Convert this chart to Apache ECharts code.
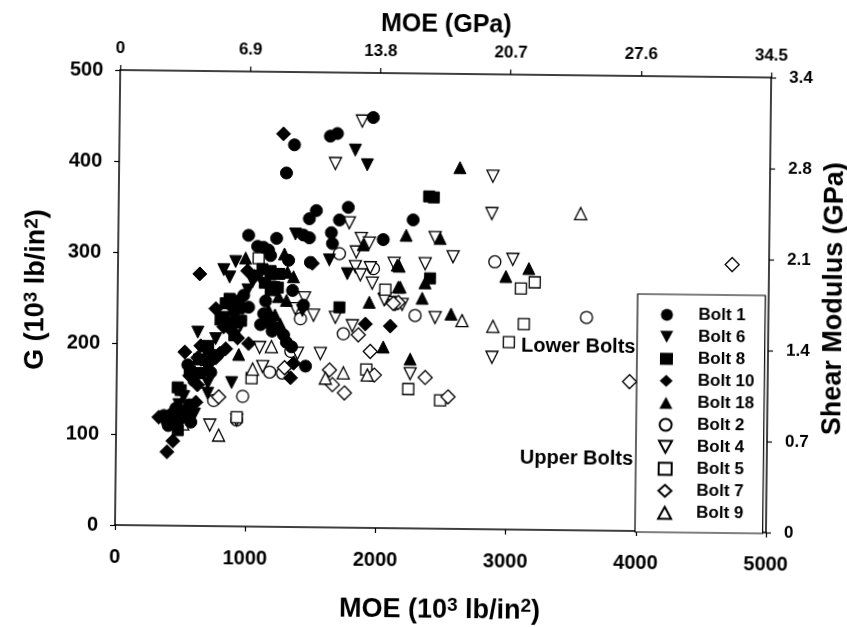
<!DOCTYPE html>
<html><head><meta charset="utf-8">
<style>html,body{margin:0;padding:0;background:#fff;overflow:hidden}
#c{width:847px;height:627px;transform-origin:115px 525px;transform:rotate(0.66deg)}</style>
<script src="https://cdn.jsdelivr.net/npm/echarts@6/dist/echarts.min.js"></script>
</head><body><div id="c"></div><script>
const bolt1=[[1948,451],[1674,433],[1620,430],[1345,420],[1286,389],[1519,348],[1466,339],[1764,352],[1697,338],[1636,324],[1645,312],[2035,317],[1001,320],[1216,317],[1422,321],[1468,318],[1071,308],[1117,307],[1155,304],[1171,298],[1310,293],[1478,291],[1343,260],[1137,248],[1428,244],[2263,339],[968,254],[930,248],[1007,241],[1123,234],[1138,225],[1177,224],[1231,218],[1278,211],[1340,198],[1449,177],[545,177],[722,169],[592,160],[700,180],[573,114],[550,119],[366,121],[457,129],[400,110],[430,123],[480,116],[520,126],[560,133],[1100,222],[1190,215],[1300,203]];
const bolt6=[[1813,415],[1906,399],[1361,322],[1623,294],[1762,279],[904,291],[813,282],[859,274],[1036,269],[1135,267],[1197,263],[619,213],[883,158],[700,157],[757,206],[700,146],[645,182],[682,191],[358,116],[516,142],[947,221],[1421,238],[1162,229],[420,116],[600,123],[480,133],[1000,260],[1085,275]];
const bolt8=[[2384,365],[2420,364],[2398,275],[1704,242],[470,152],[474,105],[831,245],[1172,281],[1175,260],[630,183],[793,227],[910,224],[493,149],[560,170],[640,168],[700,198],[740,188],[860,250],[820,230],[900,210],[950,226],[1110,283],[1240,278],[1130,268],[1230,263]];
const bolt10=[[1260,432],[629,277],[1493,290],[2096,222],[1905,224],[1335,164],[1357,180],[392,81],[437,93],[521,191],[755,239],[925,207],[1010,201],[818,219],[643,198],[610,136],[327,119],[835,195],[621,185],[885,240],[996,281],[620,155],[560,165],[760,185],[700,178],[790,190],[900,235],[850,225],[960,240],[880,215],[1050,275]];
const bolt18=[[2618,397],[2211,322],[2472,319],[2160,288],[2169,265],[2360,270],[2339,253],[2562,236],[2044,199],[2252,186],[2980,278],[3156,287],[1882,311],[980,295],[1278,300],[1349,275],[1303,280],[2145,289],[2155,265],[1933,248],[1236,253],[1297,249],[935,189],[1172,278],[1160,238],[1210,233],[1250,223]];
const bolt2=[[2894,294],[3603,234],[2286,234],[1737,213],[1174,170],[969,143],[747,138],[1273,169],[1406,229],[1335,193],[1700,301],[1962,285],[925,117],[1947,168]];
const bolt4=[[1864,447],[1661,400],[1773,335],[1866,318],[1928,313],[1829,303],[1823,287],[1938,286],[1862,278],[1954,269],[2121,291],[2055,252],[2117,248],[1435,252],[2872,388],[2867,347],[2433,320],[2573,299],[2359,291],[3032,297],[2048,251],[2186,246],[2440,232],[2880,189],[2253,170],[1674,231],[1805,222],[1506,233],[1367,240],[1386,191],[1562,191],[1095,197],[1120,176],[719,111],[925,117]];
const bolt5=[[1080,295],[2055,262],[1036,163],[1916,174],[3202,272],[3096,265],[3122,226],[3009,206],[2240,153],[2486,141],[925,120]];
const bolt7=[[4717,294],[3939,164],[2369,166],[2546,145],[785,142],[1852,212],[1945,194],[1978,168],[1750,148],[1657,157],[1633,173],[1288,175],[2133,247],[2155,248],[2118,247]];
const bolt9=[[3549,348],[2647,229],[2885,223],[1186,198],[1043,173],[1740,170],[1603,164],[1924,168],[788,100],[512,112],[510,138]];
const topTickLabels=['0','6.9','13.8','20.7','27.6','34.5'];
const rightTickLabels=['0','0.7','1.4','2.1','2.8','3.4'];
const legendOrder=['Bolt 1','Bolt 6','Bolt 8','Bolt 10','Bolt 18','Bolt 2','Bolt 4','Bolt 5','Bolt 7','Bolt 9'];

const F='"Liberation Sans",Arial,sans-serif';
const lbl={color:'#000',fontFamily:F,fontWeight:'bold',fontSize:17};
const rich={n:{fontFamily:F,fontWeight:'bold',fontSize:27,color:'#000'},s:{fontFamily:F,fontWeight:'bold',fontSize:19,color:'#000',padding:[0,0,11,0]}};
const line={show:true,onZero:false,lineStyle:{color:'#000',width:1.5}};
const tick={show:true,length:5,lineStyle:{color:'#000',width:1.2}};
const downTri='path://M0,0 L12,0 L6,11 Z';
function filled(name,data,symbol,size,rot){return {name,type:'scatter',data,symbol,symbolSize:size,symbolRotate:rot||0,z:5,itemStyle:{color:'#000',borderColor:'#000',opacity:1}};}
function open(name,data,symbol,size,rot){return {name,type:'scatter',data,symbol,symbolSize:size,symbolRotate:rot||0,z:3,itemStyle:{color:'#fff',borderColor:'#000',borderWidth:1.3,opacity:1}};}

const chart=echarts.init(document.getElementById('c'),null,{renderer:'canvas'});
chart.setOption({
 animation:false,backgroundColor:'#fff',
 grid:{left:115,top:70,width:651,height:455,containLabel:false,outerBoundsMode:'none'},
 legend:{orient:'vertical',left:635,top:288,itemWidth:13,itemHeight:12,itemGap:5,padding:[12,10,11,22],
  backgroundColor:'#fff',borderColor:'#000',borderWidth:1.2,
  data:legendOrder.map(n=>(n==='Bolt 6'||n==='Bolt 4')?{name:n,icon:downTri}:{name:n}),
  textStyle:{...lbl,padding:[0,0,0,20]}},
 xAxis:[
  {type:'value',position:'bottom',min:0,max:5000,interval:1000,splitLine:{show:false},axisLine:line,axisTick:tick,
   axisLabel:{...lbl,fontSize:20,margin:22,formatter:v=>String(v)},
   name:'{n|MOE (10}{s|3}{n| lb/in}{s|2}{n|)}',nameLocation:'middle',nameGap:67,nameTextStyle:{rich}},
  {type:'value',position:'top',min:0,max:5000,interval:1000,splitLine:{show:false},axisLine:line,axisTick:tick,
   axisLabel:{...lbl,margin:13,formatter:v=>topTickLabels[v/1000]},
   name:'MOE (GPa)',nameLocation:'middle',nameGap:36,nameTextStyle:{...lbl,fontSize:25}}
 ],
 yAxis:[
  {type:'value',position:'left',min:0,max:500,interval:100,splitLine:{show:false},axisLine:line,axisTick:tick,
   axisLabel:{...lbl,fontSize:20,margin:17},
   name:'{n|G (10}{s|3}{n| lb/in}{s|2}{n|)}',nameLocation:'middle',nameGap:66,nameTextStyle:{rich,padding:[0,0,0,14]}},
  {type:'value',position:'right',min:0,max:500,interval:100,splitLine:{show:false},axisLine:line,axisTick:tick,
   axisLabel:{...lbl,margin:18,formatter:v=>rightTickLabels[v/100]},
   name:'Shear Modulus (GPa)',nameLocation:'middle',nameRotate:90,nameGap:48,nameTextStyle:{...lbl,fontSize:27,padding:[0,0,0,14]}}
 ],
 graphic:[
  {type:'text',left:519,top:331,z:10,style:{text:'Lower Bolts',fill:'#000',font:'bold 20px '+F}},
  {type:'text',left:519,top:443,z:10,style:{text:'Upper Bolts',fill:'#000',font:'bold 20px '+F}}
 ],
 series:[
  open('Bolt 2',bolt2,'circle',12),
  open('Bolt 4',bolt4,'triangle',12,180),
  open('Bolt 5',bolt5,'rect',11),
  open('Bolt 7',bolt7,'diamond',14),
  open('Bolt 9',bolt9,'triangle',12),
  filled('Bolt 1',bolt1,'circle',12),
  filled('Bolt 6',bolt6,'triangle',12,180),
  filled('Bolt 8',bolt8,'rect',11),
  filled('Bolt 10',bolt10,'diamond',14),
  filled('Bolt 18',bolt18,'triangle',12)
 ]
});
</script></body></html>
